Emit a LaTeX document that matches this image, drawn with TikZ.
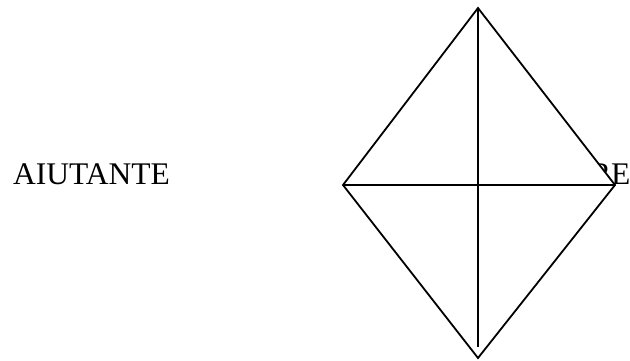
\documentclass[tikz,border=0pt]{standalone}
\usepackage{fontspec}
\setmainfont{Liberation Serif}
\usepackage{tikz}
\usetikzlibrary{positioning, calc}
\definecolor{rankblack}{RGB}{0,0,0}
\tikzset{
  rank/.style={
    rectangle, draw=none, fill=none, inner sep=0pt,
    font=\fontsize{31.5}{36}\selectfont, text=rankblack
  },
  rhombus/.style={draw=rankblack, line width=1.8pt, fill=white, line join=miter},
  crossline/.style={draw=rankblack, line width=1.8pt}
}

\begin{document}
\begin{tikzpicture}[x=1pt, y=-1pt]
\useasboundingbox (0,0) rectangle (630,360);

% labels sit behind the rhombus
\node[rank, anchor=base west] (aiutante) at (13,184) {AIUTANTE};
\node[rank, anchor=base west] (re) at (590,184) {RE};

\coordinate (top) at (478,8);
\coordinate (left) at (343,185);
\coordinate (right) at (615,185);
\coordinate (bottom) at (478,358);
\coordinate (stem) at (478,347);

\draw[rhombus] (top) -- (right) -- (bottom) -- (left) -- cycle;
\draw[crossline] (left) -- (right);
\draw[crossline] (top) -- (stem);
\end{tikzpicture}
\end{document}
